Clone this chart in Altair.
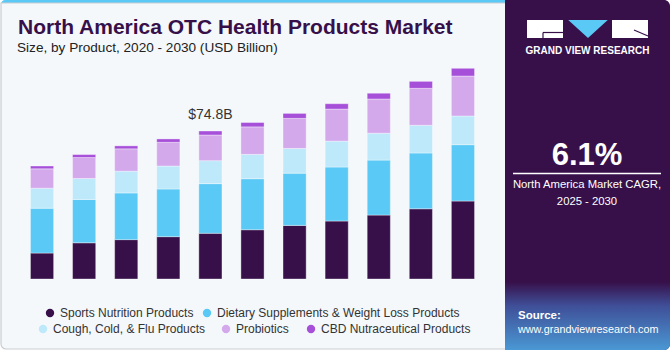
import altair as alt
import pandas as pd

years = ["2020", "2021", "2022", "2023", "2024", "2025", "2026", "2027", "2028", "2029", "2030"]
series = ["Sports Nutrition Products", "Dietary Supplements & Weight Loss Products",
          "Cough, Cold, & Flu Products", "Probiotics", "CBD Nutraceutical Products"]
colors = ["#37104a", "#5bc9f5", "#bde9fa", "#d3a9ec", "#a64fd9"]

sports = [13.1, 18.3, 19.9, 21.4, 23.1, 24.9, 27.1, 29.3, 32.3, 35.5, 39.4]
dietary = [22.7, 21.9, 23.6, 24.1, 25.1, 25.8, 26.4, 27.3, 27.8, 28.2, 28.5]
cough = [10.1, 10.6, 11.0, 11.6, 11.6, 12.3, 12.5, 13.1, 13.6, 14.0, 14.5]
probiotics = [9.8, 10.6, 11.3, 12.0, 13.0, 13.9, 15.2, 16.2, 17.3, 18.7, 20.2]
cbd = [1.4, 1.5, 1.5, 1.7, 2.0, 2.2, 2.5, 2.7, 2.9, 3.5, 3.9]

highlight_year = "2024"
cagr_text = "6.1%"

values = [sports, dietary, cough, probiotics, cbd]
rows = []
for si, (name, vals) in enumerate(zip(series, values)):
    for y, v in zip(years, vals):
        rows.append({"year": y, "series": name, "value": v, "idx": si})
df = pd.DataFrame(rows)

OX, OY = 21, 60          # plot-area origin inside the 670x350 canvas
W, H = 463, 219
FONT = "Liberation Sans"
DARK = "#37104a"


def px(X):
    return X - OX


def py(Y):
    return Y - OY


one = pd.DataFrame({"k": [0]})


def box(x1, x2, y1, y2, **kw):
    return alt.Chart(one).mark_rect(**kw).encode(
        x=alt.value(px(x1)), x2=alt.value(px(x2)),
        y=alt.value(py(y1)), y2=alt.value(py(y2)))


def label(txt, X, Y, **kw):
    return alt.Chart(one).mark_text(text=txt, font=FONT, **kw).encode(
        x=alt.value(px(X)), y=alt.value(py(Y)))


# backgrounds
top_strip = box(1, 510, 0, 8, color="#5bc9f5", cornerRadius=5)
left_panel = box(1, 508, 3, 349, color="#f4f8fb", stroke="#c9cdd2", strokeWidth=1.2,
                 cornerRadiusBottomLeft=5)
right_panel = box(505, 670, 0, 350, color=DARK, cornerRadiusTopRight=6, cornerRadiusBottomRight=6)
grad = box(505, 670, 282, 350, cornerRadiusBottomRight=6,
           color=alt.Gradient(gradient="linear", x1=0, x2=0, y1=0, y2=1,
                              stops=[alt.GradientStop(color=DARK, offset=0),
                                     alt.GradientStop(color="#3f4f98", offset=0.35),
                                     alt.GradientStop(color="#4a98d4", offset=1)]))

# bars
base = alt.Chart(df)
bars = base.mark_bar(stroke="#ffffff", strokeWidth=0.6, strokeOpacity=0.6).encode(
    x=alt.X("year:N", sort=years,
            scale=alt.Scale(paddingInner=0.45, paddingOuter=0.225),
            axis=alt.Axis(title=None, labelAngle=0, ticks=False, domain=False,
                          labelFontSize=12.5, labelColor="#333333", labelPadding=3,
                          labelFont=FONT, grid=False)),
    y=alt.Y("sum(value):Q", stack="zero",
            scale=alt.Scale(domain=[0, 110.7], nice=False, zero=True),
            axis=None),
    color=alt.Color("series:N", scale=alt.Scale(domain=series, range=colors), legend=None),
    order=alt.Order("idx:Q", sort="ascending"),
)

total_label = base.transform_filter(
    alt.datum.year == highlight_year
).transform_aggregate(
    total="sum(value)", groupby=["year"]
).transform_calculate(
    lbl="'$' + format(datum.total, '.1f') + 'B'"
).mark_text(font=FONT, fontSize=14, color="#333333", baseline="bottom", dy=-9).encode(
    x=alt.X("year:N", sort=years), y=alt.Y("total:Q"), text="lbl:N")

# titles
title = label("North America OTC Health Products Market", 18, 28, fontSize=21, fontWeight="bold",
              color=DARK, align="left", baseline="middle")
subtitle = label("Size, by Product, 2020 - 2030 (USD Billion)", 17, 48, fontSize=13.6,
                 color="#222222", align="left", baseline="middle")

# legend
leg_pos = [(50, 313), (207, 313), (43, 329), (226, 329), (311, 329)]
legend_layers = []
for (name, col), (X, Y) in zip(zip(series, colors), leg_pos):
    legend_layers.append(alt.Chart(one).mark_point(filled=True, size=70, opacity=1, color=col,
                                                  shape="circle").encode(
        x=alt.value(px(X)), y=alt.value(py(Y))))
    legend_layers.append(label(name, X + 10, Y, fontSize=12, color="#333333",
                               align="left", baseline="middle"))

# right panel content
logo_g = box(527, 563, 20, 38, color="#ffffff")
logo_e = box(612, 648, 20, 38, color="#ffffff")
logo_tri = alt.Chart(one).mark_point(filled=True, opacity=1, color="#5bc9f5",
                                     shape="M-1,-0.46L1,-0.46L0,0.46Z", size=1560).encode(
    x=alt.value(px(588)), y=alt.value(py(29)))
logo_line1 = alt.Chart(one).mark_rule(color=DARK, strokeWidth=1.2).encode(
    x=alt.value(px(543)), x2=alt.value(px(563)), y=alt.value(py(32.5)), y2=alt.value(py(32.5)))
logo_line2 = alt.Chart(one).mark_rule(color=DARK, strokeWidth=1.2).encode(
    x=alt.value(px(543)), x2=alt.value(px(543)), y=alt.value(py(32.5)), y2=alt.value(py(38)))
logo_line3 = alt.Chart(one).mark_rule(color=DARK, strokeWidth=1.2).encode(
    x=alt.value(px(634)), x2=alt.value(px(648)), y=alt.value(py(30)), y2=alt.value(py(36)))
gvr = label("GRAND VIEW RESEARCH", 587.5, 51, fontSize=10, fontWeight="bold", color="#ffffff",
            align="center", baseline="middle")

cagr = label(cagr_text, 587, 156, fontSize=31, fontWeight="bold", color="#ffffff",
             align="center", baseline="middle")
cagr_rule = alt.Chart(one).mark_rule(color="#ffffff", strokeWidth=1.5).encode(
    x=alt.value(px(513)), x2=alt.value(px(661)), y=alt.value(py(173.5)), y2=alt.value(py(173.5)))
cagr_t1 = label("North America Market CAGR,", 587, 185, fontSize=11.3, color="#ffffff",
                align="center", baseline="middle")
cagr_t2 = label("2025 - 2030", 587, 202, fontSize=11.3, color="#ffffff",
                align="center", baseline="middle")
src1 = label("Source:", 518, 316, fontSize=11.5, fontWeight="bold", color="#ffffff",
             align="left", baseline="middle")
src2 = label("www.grandviewresearch.com", 518, 330, fontSize=10.8, color="#ffffff",
             align="left", baseline="middle")

chart = alt.layer(
    top_strip, left_panel, right_panel, grad,
    bars, total_label, title, subtitle, *legend_layers,
    logo_g, logo_e, logo_tri, logo_line1, logo_line2, logo_line3, gvr,
    cagr, cagr_rule, cagr_t1, cagr_t2, src1, src2,
).resolve_scale(x="shared", y="shared").properties(
    width=W, height=H,
    autosize=alt.AutoSizeParams(type="none"),
    padding={"left": OX, "top": OY, "right": 670 - OX - W, "bottom": 350 - OY - H},
    background="#ffffff",
).configure_view(stroke=None)

chart.save("out.html", embed_options={"renderer": "svg", "actions": False})
